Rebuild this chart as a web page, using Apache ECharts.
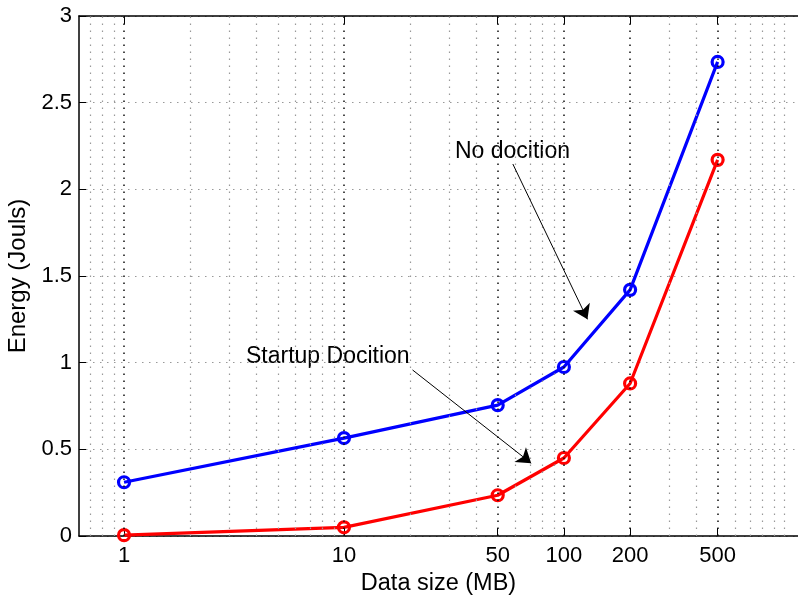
<!DOCTYPE html>
<html>
<head>
<meta charset="utf-8">
<script src="https://cdn.jsdelivr.net/npm/echarts@6/dist/echarts.min.js"></script>
<style>
  html, body { margin: 0; padding: 0; background: #fff; }
  #chart { width: 798px; height: 595px; }
</style>
</head>
<body>
<div id="chart"></div>
<script>
// data
const dataSize = [1, 10, 50, 100, 200, 500];
const noDecision = [0.31, 0.565, 0.755, 0.975, 1.42, 2.735];
const startupDecision = [0.005, 0.05, 0.235, 0.45, 0.88, 2.17];
const xTickValues = [1, 10, 50, 100, 200, 500];
const minorGridX = [0.7, 0.8, 0.9, 2, 3, 4, 5, 6, 7, 8, 9, 20, 30, 40, 60, 70, 80, 90, 300, 400, 600, 700, 800, 900, 1000];
// arrows: [tail, tip] in data units
const arrowNo = [[58.6, 2.146], [128, 1.25]];
const arrowStartup = [[20.5, 0.958], [71, 0.42]];

const font = 'Liberation Sans, Arial, Helvetica, sans-serif';
const chart = echarts.init(document.getElementById('chart'));

const pairs = ys => dataSize.map((x, i) => [x, ys[i]]);

const xCommon = {
  type: 'log',
  logBase: 10,
  min: 0.624,
  max: 1160,
  axisLine: { show: true, lineStyle: { color: '#000', width: 1.5 } },
  axisTick: { show: true, inside: true, length: 8, customValues: xTickValues, lineStyle: { color: '#000', width: 1 } },
  splitLine: { show: false },
  minorTick: { show: false }
};

chart.setOption({
  animation: false,
  grid: { left: 79, right: 0, top: 16, bottom: 59, containLabel: false, outerBoundsMode: 'none' },
  xAxis: [
    Object.assign({}, xCommon, {
      position: 'bottom',
      name: 'Data size (MB)',
      nameLocation: 'middle',
      nameGap: 31,
      nameTextStyle: { fontSize: 23.5, color: '#000', fontFamily: font },
      axisLabel: { customValues: xTickValues, fontSize: 22, color: '#000', fontFamily: font, margin: 9 }
    }),
    Object.assign({}, xCommon, {
      position: 'top',
      axisLabel: { show: false }
    })
  ],
  yAxis: {
    type: 'value',
    min: 0,
    max: 3,
    interval: 0.5,
    name: 'Energy (Jouls)',
    nameLocation: 'middle',
    nameGap: 47,
    nameTextStyle: { fontSize: 24, color: '#000', fontFamily: font },
    axisLine: { show: true, lineStyle: { color: '#000', width: 1.5 } },
    axisTick: { show: true, inside: true, length: 7, lineStyle: { color: '#000' } },
    axisLabel: { fontSize: 22, color: '#000', fontFamily: font, margin: 7 },
    splitLine: { show: true, lineStyle: { color: '#999', width: 1.2, type: [1.5, 5.5] } }
  },
  graphic: [
    { type: 'text', left: 455, top: 140, style: { text: 'No docition', fontSize: 23, fontFamily: font, fill: '#000' } },
    { type: 'text', left: 246, top: 345, style: { text: 'Startup Docition', fontSize: 23, fontFamily: font, fill: '#000' } }
  ],
  series: [
    {
      // vertical dotted grid of the log axis
      type: 'line',
      data: [],
      z: 1,
      silent: true,
      markLine: {
        silent: true,
        symbol: 'none',
        label: { show: false },
        animation: false,
        data: minorGridX.map(v => ({ xAxis: v, lineStyle: { color: '#999', width: 1.2, type: [1.5, 5.5] } }))
          .concat(xTickValues.map(v => ({ xAxis: v, lineStyle: { color: '#111', width: 1.5, type: [1.5, 5.5] } })))
      }
    },
    {
      name: 'No docition',
      type: 'line',
      data: pairs(noDecision),
      z: 3,
      symbol: 'circle',
      symbolSize: 11,
      lineStyle: { color: '#0000ff', width: 3.2 },
      itemStyle: { color: 'rgba(0,0,0,0)', borderColor: '#0000ff', borderWidth: 3.2 }
    },
    {
      name: 'Startup Docition',
      type: 'line',
      data: pairs(startupDecision),
      z: 3,
      symbol: 'circle',
      symbolSize: 11,
      lineStyle: { color: '#ff0000', width: 3.2 },
      itemStyle: { color: 'rgba(0,0,0,0)', borderColor: '#ff0000', borderWidth: 3.2 }
    },
    {
      // annotation arrows
      type: 'line',
      data: [],
      z: 4,
      silent: true,
      markLine: {
        silent: true,
        symbol: ['none', 'arrow'],
        symbolSize: 14,
        label: { show: false },
        lineStyle: { color: '#000', width: 1, type: 'solid' },
        animation: false,
        data: [
          [{ coord: arrowNo[0] }, { coord: arrowNo[1] }],
          [{ coord: arrowStartup[0] }, { coord: arrowStartup[1] }]
        ]
      }
    }
  ]
});
</script>
</body>
</html>
